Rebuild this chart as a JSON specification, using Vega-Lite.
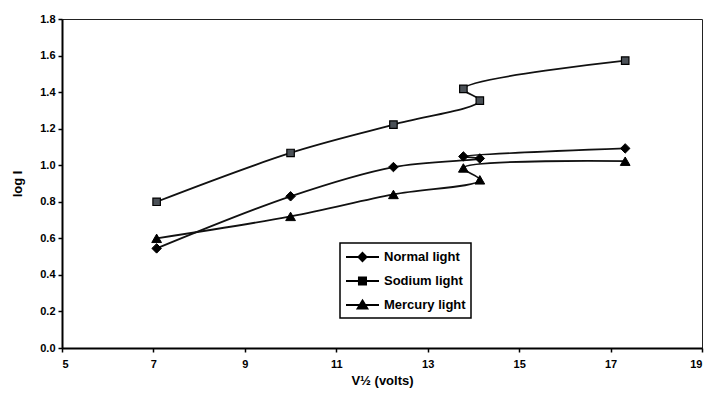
{
  "$schema": "https://vega.github.io/schema/vega-lite/v6.json",
  "autosize": {"type": "none"},
  "padding": {"left": 62, "top": 19, "right": 6, "bottom": 46},
  "width": 640,
  "height": 329,
  "background": "white",
  "config": {
    "font": "Liberation Sans",
    "view": {"stroke": "#222", "strokeWidth": 1},
    "legend": {"strokeWidth": 1.5},
    "axis": {
      "grid": false,
      "domainColor": "#000",
      "domainWidth": 2,
      "tickColor": "#000",
      "tickWidth": 1.5,
      "tickSize": 4,
      "labelFont": "Liberation Sans",
      "labelFontSize": 11,
      "labelFontWeight": "bold",
      "labelColor": "#000",
      "titleFont": "Liberation Sans",
      "titleFontSize": 13,
      "titleFontWeight": "bold",
      "titleColor": "#000"
    }
  },
  "data": {
    "values": [
      {"series": "Normal light", "i": 1, "x": 7.07, "y": 0.545},
      {"series": "Normal light", "i": 2, "x": 10.0, "y": 0.83},
      {"series": "Normal light", "i": 3, "x": 12.25, "y": 0.99},
      {"series": "Normal light", "i": 4, "x": 14.14, "y": 1.037},
      {"series": "Normal light", "i": 5, "x": 13.78, "y": 1.048},
      {"series": "Normal light", "i": 6, "x": 17.32, "y": 1.092},
      {"series": "Sodium light", "i": 1, "x": 7.07, "y": 0.80},
      {"series": "Sodium light", "i": 2, "x": 10.0, "y": 1.067},
      {"series": "Sodium light", "i": 3, "x": 12.25, "y": 1.222},
      {"series": "Sodium light", "i": 4, "x": 14.14, "y": 1.353},
      {"series": "Sodium light", "i": 5, "x": 13.78, "y": 1.418},
      {"series": "Sodium light", "i": 6, "x": 17.32, "y": 1.572},
      {"series": "Mercury light", "i": 1, "x": 7.07, "y": 0.60},
      {"series": "Mercury light", "i": 2, "x": 10.0, "y": 0.72},
      {"series": "Mercury light", "i": 3, "x": 12.25, "y": 0.84},
      {"series": "Mercury light", "i": 4, "x": 14.14, "y": 0.92},
      {"series": "Mercury light", "i": 5, "x": 13.78, "y": 0.985},
      {"series": "Mercury light", "i": 6, "x": 17.32, "y": 1.022}
    ]
  },
  "encoding": {
    "x": {
      "field": "x",
      "type": "quantitative",
      "scale": {"domain": [5, 19], "nice": false, "zero": false},
      "axis": {"values": [5, 7, 9, 11, 13, 15, 17, 19], "title": "V½ (volts)", "labelPadding": 6, "titlePadding": 5}
    },
    "y": {
      "field": "y",
      "type": "quantitative",
      "scale": {"domain": [0, 1.8], "nice": false},
      "axis": {"values": [0, 0.2, 0.4, 0.6, 0.8, 1.0, 1.2, 1.4, 1.6, 1.8], "format": ".1f", "title": "log I", "labelPadding": 3, "titlePadding": 15}
    }
  },
  "layer": [
    {
      "mark": {"type": "line", "interpolate": "catmull-rom", "color": "#111", "strokeWidth": 1.8},
      "encoding": {
        "detail": {"field": "series", "type": "nominal"},
        "order": {"field": "i", "type": "quantitative"}
      }
    },
    {
      "transform": [{"filter": "datum.series === 'Normal light'"}],
      "mark": {"type": "point", "shape": "diamond", "filled": true, "fill": "#000", "stroke": "#000", "strokeWidth": 1, "size": 90, "opacity": 1}
    },
    {
      "transform": [{"filter": "datum.series === 'Sodium light'"}],
      "mark": {"type": "point", "shape": "square", "filled": true, "fill": "#4b5157", "stroke": "#000", "strokeWidth": 1.2, "size": 56, "opacity": 1}
    },
    {
      "transform": [{"filter": "datum.series === 'Mercury light'"}],
      "mark": {"type": "point", "shape": "triangle-up", "filled": true, "fill": "#000", "stroke": "#000", "strokeWidth": 1, "size": 95, "opacity": 1}
    },
    {
      "mark": {"type": "point", "filled": false, "color": "#000", "strokeWidth": 2, "opacity": 0},
      "encoding": {
        "shape": {
          "field": "series",
          "type": "nominal",
          "sort": ["Normal light", "Sodium light", "Mercury light"],
          "scale": {"range": [
            "M-1,0H3.125M1.06,-0.5L1.56,0L1.06,0.5L0.56,0ZM1.06,-0.25L1.31,0L1.06,0.25L0.81,0ZM1.06,-0.4V0.4",
            "M-1,0H3.125M0.62,-0.44H1.5V0.44H0.62ZM0.84,-0.22H1.28V0.22H0.84ZM1.06,-0.4V0.4",
            "M-1,0H3.125M1.06,-0.55L1.66,0.45H0.46ZM1.06,-0.2L1.36,0.3H0.76ZM1.06,-0.45V0.45"
          ]},
          "legend": {
            "orient": "none",
            "legendX": 278,
            "legendY": 224,
            "title": null,
            "strokeColor": "#000",
            "fillColor": "white",
            "padding": 5,
            "rowPadding": 7,
            "symbolSize": 256,
            "symbolStrokeWidth": 2,
            "symbolStrokeColor": "#000",
            "symbolOpacity": 1,
            "labelOffset": 21,
            "labelFont": "Liberation Sans",
            "labelFontSize": 13,
            "labelFontWeight": "bold",
            "labelColor": "#000"
          }
        }
      }
    }
  ]
}
